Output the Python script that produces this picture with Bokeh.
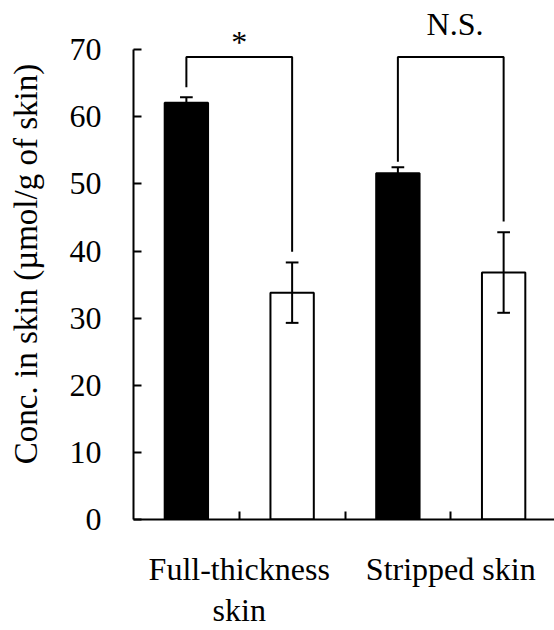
from bokeh.plotting import figure
from bokeh.models import FixedTicker, Range1d
from bokeh.core.properties import value
from bokeh.embed import file_html
from bokeh.resources import INLINE

# ---- data ----
groups = ["Full-thickness\nskin", "Stripped skin"]
black_mean = [62.1, 51.6]
black_err = [0.8, 0.9]
white_mean = [33.8, 36.8]
white_err = [4.5, 6.0]
y_ticks = [0, 10, 20, 30, 40, 50, 60, 70]
# significance brackets: top height, left leg bottom, right leg bottom
bracket_top = [68.9, 68.9]
bracket_left_bottom = [64.4, 53.3]
bracket_right_bottom = [39.9, 44.4]
sig_text = ["*", "N.S."]
sig_y = [71.2, 73.9]
y_label = "Conc. in skin (µmol/g of skin)"

FONT = "Liberation Serif"
FS = "32px"

n = len(groups)
black_x = [2 * i + 0.5 for i in range(n)]
white_x = [2 * i + 1.5 for i in range(n)]
group_x = [2 * i + 1 for i in range(n)]
BAR_W = 0.41
CAP = 0.06

TOP = 8
BOTTOM = 110
px_per_unit = 470.7 / 70
y_end = (630 - TOP - BOTTOM) / px_per_unit

p = figure(width=554, height=630, output_backend="svg", toolbar_location=None,
           x_range=Range1d(0, 3.981), y_range=Range1d(0, y_end),
           min_border_left=133, min_border_right=0, min_border_top=TOP,
           min_border_bottom=BOTTOM)
p.outline_line_color = None
p.xgrid.visible = False
p.ygrid.visible = False

# bars
p.vbar(x=black_x, top=black_mean, width=BAR_W, fill_color="black",
       line_color="black", line_width=2)
p.vbar(x=white_x, top=white_mean, width=BAR_W, fill_color="white",
       line_color="black", line_width=2)

# error bars
ex = black_x + white_x
em = black_mean + white_mean
ee = black_err + white_err
lo = [m - e for m, e in zip(em, ee)]
hi = [m + e for m, e in zip(em, ee)]
p.segment(x0=ex, y0=lo, x1=ex, y1=hi, line_color="black", line_width=2)
p.segment(x0=[x - CAP for x in ex], y0=hi, x1=[x + CAP for x in ex], y1=hi,
          line_color="black", line_width=2)
p.segment(x0=[x - CAP for x in ex], y0=lo, x1=[x + CAP for x in ex], y1=lo,
          line_color="black", line_width=2)

# significance brackets
xs = [[bx, bx, wx, wx] for bx, wx in zip(black_x, white_x)]
ys = [[lb, t, t, rb] for lb, t, rb in zip(bracket_left_bottom, bracket_top, bracket_right_bottom)]
p.multi_line(xs=xs, ys=ys, line_color="black", line_width=2)

offsets = [0.0, 0.04]
p.text(x=[gx + o for gx, o in zip(group_x, offsets)], y=sig_y, text=sig_text,
       text_align="center", text_baseline="alphabetic",
       text_font=value(FONT), text_font_size=FS, text_color="black")

# axes
xa = p.xaxis[0]
xa.ticker = FixedTicker(ticks=[1, 2, 3])
xa.major_label_overrides = {1: groups[0], 2: "", 3: groups[1]}
xa.major_tick_in = 8
xa.major_tick_out = 0
xa.minor_tick_line_color = None
xa.axis_line_width = 2
xa.major_tick_line_width = 2
xa.major_label_text_font = FONT
xa.major_label_text_font_size = FS
xa.major_label_text_line_height = 1.15
xa.major_label_text_color = "black"
xa.major_label_standoff = 31
xa.axis_line_color = "black"
xa.major_tick_line_color = "black"

ya = p.yaxis[0]
ya.ticker = FixedTicker(ticks=y_ticks)
ya.bounds = (0, 70)
ya.major_tick_in = 8
ya.major_tick_out = 0
ya.minor_tick_line_color = None
ya.axis_line_width = 2
ya.major_tick_line_width = 2
ya.major_label_text_font = FONT
ya.major_label_text_font_size = FS
ya.major_label_text_color = "black"
ya.major_label_standoff = 32
ya.axis_line_color = "black"
ya.major_tick_line_color = "black"
ya.axis_label = y_label
ya.axis_label_text_font = FONT
ya.axis_label_text_font_size = "33px"
ya.axis_label_text_font_style = "normal"
ya.axis_label_text_color = "black"
ya.axis_label_standoff = 23

open("out.html", "w").write(file_html(p, INLINE))
